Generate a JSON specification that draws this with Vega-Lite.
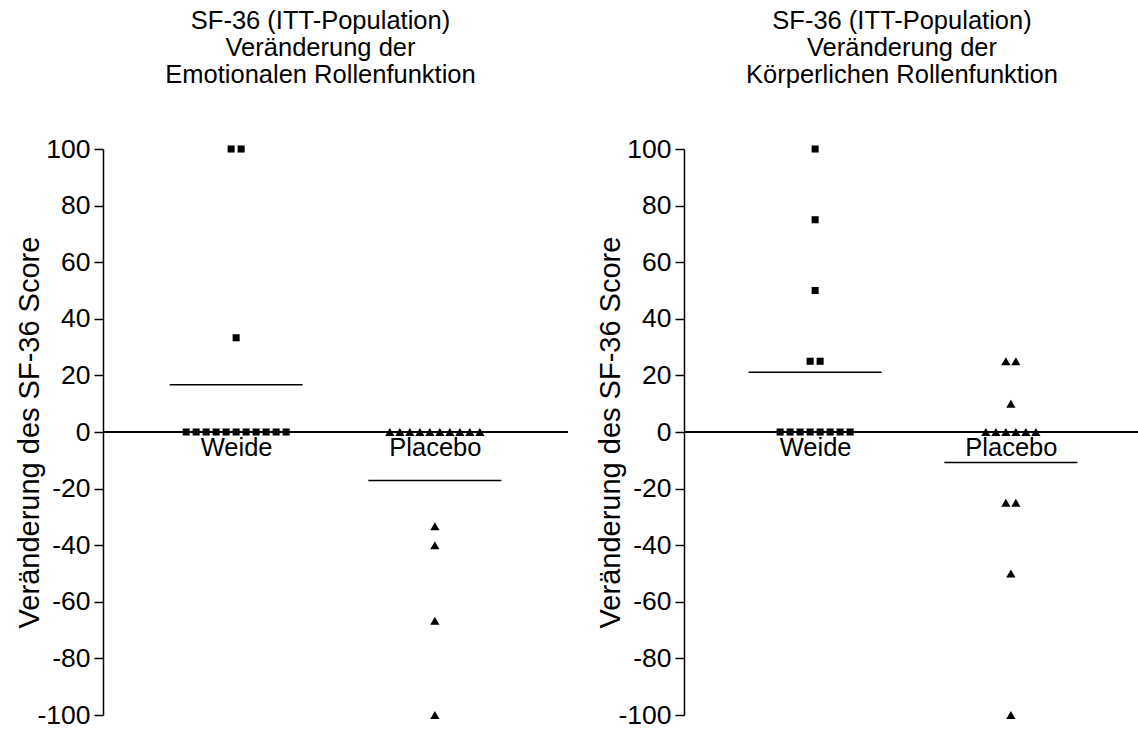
{
  "$schema": "https://vega.github.io/schema/vega-lite/v6.json",
  "background": "white",
  "padding": {"left": 15, "top": 8, "right": 0, "bottom": 0},
  "config": {
    "font": "Liberation Sans",
    "view": {"stroke": null},
    "axis": {"labelColor": "black", "titleColor": "black", "domainColor": "black", "tickColor": "black", "grid": false, "labelFont": "Liberation Sans", "titleFont": "Liberation Sans", "titleFontWeight": "normal"},
    "title": {"font": "Liberation Sans", "fontSize": 25.5, "fontWeight": "normal", "color": "black", "lineHeight": 27}
  },
  "datasets": {
    "sf36": [
      {"panel": "Emotional", "group": "Weide", "value": 100},
      {"panel": "Emotional", "group": "Weide", "value": 100},
      {"panel": "Emotional", "group": "Weide", "value": 33.3},
      {"panel": "Emotional", "group": "Weide", "value": 0},
      {"panel": "Emotional", "group": "Weide", "value": 0},
      {"panel": "Emotional", "group": "Weide", "value": 0},
      {"panel": "Emotional", "group": "Weide", "value": 0},
      {"panel": "Emotional", "group": "Weide", "value": 0},
      {"panel": "Emotional", "group": "Weide", "value": 0},
      {"panel": "Emotional", "group": "Weide", "value": 0},
      {"panel": "Emotional", "group": "Weide", "value": 0},
      {"panel": "Emotional", "group": "Weide", "value": 0},
      {"panel": "Emotional", "group": "Weide", "value": 0},
      {"panel": "Emotional", "group": "Weide", "value": 0},
      {"panel": "Emotional", "group": "Placebo", "value": 0},
      {"panel": "Emotional", "group": "Placebo", "value": 0},
      {"panel": "Emotional", "group": "Placebo", "value": 0},
      {"panel": "Emotional", "group": "Placebo", "value": 0},
      {"panel": "Emotional", "group": "Placebo", "value": 0},
      {"panel": "Emotional", "group": "Placebo", "value": 0},
      {"panel": "Emotional", "group": "Placebo", "value": 0},
      {"panel": "Emotional", "group": "Placebo", "value": 0},
      {"panel": "Emotional", "group": "Placebo", "value": 0},
      {"panel": "Emotional", "group": "Placebo", "value": 0},
      {"panel": "Emotional", "group": "Placebo", "value": -33.3},
      {"panel": "Emotional", "group": "Placebo", "value": -40},
      {"panel": "Emotional", "group": "Placebo", "value": -66.7},
      {"panel": "Emotional", "group": "Placebo", "value": -100},
      {"panel": "Koerperlich", "group": "Weide", "value": 100},
      {"panel": "Koerperlich", "group": "Weide", "value": 75},
      {"panel": "Koerperlich", "group": "Weide", "value": 50},
      {"panel": "Koerperlich", "group": "Weide", "value": 25},
      {"panel": "Koerperlich", "group": "Weide", "value": 25},
      {"panel": "Koerperlich", "group": "Weide", "value": 0},
      {"panel": "Koerperlich", "group": "Weide", "value": 0},
      {"panel": "Koerperlich", "group": "Weide", "value": 0},
      {"panel": "Koerperlich", "group": "Weide", "value": 0},
      {"panel": "Koerperlich", "group": "Weide", "value": 0},
      {"panel": "Koerperlich", "group": "Weide", "value": 0},
      {"panel": "Koerperlich", "group": "Weide", "value": 0},
      {"panel": "Koerperlich", "group": "Weide", "value": 0},
      {"panel": "Koerperlich", "group": "Placebo", "value": 25},
      {"panel": "Koerperlich", "group": "Placebo", "value": 25},
      {"panel": "Koerperlich", "group": "Placebo", "value": 10},
      {"panel": "Koerperlich", "group": "Placebo", "value": 0},
      {"panel": "Koerperlich", "group": "Placebo", "value": 0},
      {"panel": "Koerperlich", "group": "Placebo", "value": 0},
      {"panel": "Koerperlich", "group": "Placebo", "value": 0},
      {"panel": "Koerperlich", "group": "Placebo", "value": 0},
      {"panel": "Koerperlich", "group": "Placebo", "value": 0},
      {"panel": "Koerperlich", "group": "Placebo", "value": -25},
      {"panel": "Koerperlich", "group": "Placebo", "value": -25},
      {"panel": "Koerperlich", "group": "Placebo", "value": -50},
      {"panel": "Koerperlich", "group": "Placebo", "value": -100}
    ]
  },
  "spacing": 27,
  "hconcat": [
    {
      "width": 465,
      "height": 566,
      "title": {"text": ["SF-36 (ITT-Population)", "Veränderung der", "Emotionalen Rollenfunktion"], "offset": 48, "dx": -15, "frame": "group"},
      "data": {"name": "sf36"},
      "transform": [{"filter": "datum.panel === 'Emotional'"}],
      "layer": [
        {
          "mark": {"type": "rule", "color": "black", "strokeWidth": 1.5},
          "encoding": {"y": {"datum": 0, "type": "quantitative", "scale": {"domain": [-100, 100], "nice": false}}}
        },
        {
          "transform": [
            {"window": [{"op": "row_number", "as": "rk"}], "groupby": ["group", "value"]},
            {"joinaggregate": [{"op": "count", "as": "cnt"}], "groupby": ["group", "value"]},
            {"calculate": "datum.rk - (datum.cnt + 1) / 2", "as": "off"}
          ],
          "mark": {"type": "point", "filled": true, "opacity": 1, "color": "black"},
          "encoding": {
            "x": {"field": "group", "type": "nominal", "sort": ["Weide", "Placebo"], "scale": {"type": "point", "padding": 0.67}, "axis": {"title": null, "orient": "bottom", "offset": -283, "domain": false, "ticks": false, "labelFontSize": 25.5, "labelPadding": 3, "labelAngle": 0}},
            "xOffset": {"field": "off", "type": "quantitative", "scale": {"domain": [-6, 6], "range": [-60, 60]}},
            "y": {"field": "value", "type": "quantitative", "scale": {"domain": [-100, 100], "nice": false}, "axis": {"values": [-100, -80, -60, -40, -20, 0, 20, 40, 60, 80, 100], "labelExpr": "replace(datum.label, '−', '-')", "title": "Veränderung des SF-36 Score", "titleFontSize": 29, "labelFontSize": 26.5, "tickSize": 9, "labelPadding": 4, "domainWidth": 1.5, "tickWidth": 1.5, "titlePadding": -8}},
            "shape": {"field": "group", "type": "nominal", "scale": {"domain": ["Weide", "Placebo"], "range": ["square", "triangle-up"]}, "legend": null},
            "size": {"field": "group", "type": "nominal", "scale": {"domain": ["Weide", "Placebo"], "range": [50, 85]}, "legend": null}
          }
        },
        {
          "mark": {"type": "tick", "size": 133, "thickness": 1.5, "color": "black"},
          "encoding": {
            "x": {"field": "group", "type": "nominal", "sort": ["Weide", "Placebo"], "scale": {"type": "point", "padding": 0.67}},
            "y": {"aggregate": "mean", "field": "value", "type": "quantitative"}
          }
        }
      ]
    },
    {
      "width": 458,
      "height": 566,
      "title": {"text": ["SF-36 (ITT-Population)", "Veränderung der", "Körperlichen Rollenfunktion"], "offset": 48, "dx": -11, "frame": "group"},
      "data": {"name": "sf36"},
      "transform": [{"filter": "datum.panel === 'Koerperlich'"}],
      "layer": [
        {
          "mark": {"type": "rule", "color": "black", "strokeWidth": 1.5},
          "encoding": {"y": {"datum": 0, "type": "quantitative", "scale": {"domain": [-100, 100], "nice": false}}}
        },
        {
          "transform": [
            {"window": [{"op": "row_number", "as": "rk"}], "groupby": ["group", "value"]},
            {"joinaggregate": [{"op": "count", "as": "cnt"}], "groupby": ["group", "value"]},
            {"calculate": "datum.rk - (datum.cnt + 1) / 2", "as": "off"}
          ],
          "mark": {"type": "point", "filled": true, "opacity": 1, "color": "black"},
          "encoding": {
            "x": {"field": "group", "type": "nominal", "sort": ["Weide", "Placebo"], "scale": {"type": "point", "padding": 0.67}, "axis": {"title": null, "orient": "bottom", "offset": -283, "domain": false, "ticks": false, "labelFontSize": 25.5, "labelPadding": 3, "labelAngle": 0}},
            "xOffset": {"field": "off", "type": "quantitative", "scale": {"domain": [-6, 6], "range": [-60, 60]}},
            "y": {"field": "value", "type": "quantitative", "scale": {"domain": [-100, 100], "nice": false}, "axis": {"values": [-100, -80, -60, -40, -20, 0, 20, 40, 60, 80, 100], "labelExpr": "replace(datum.label, '−', '-')", "title": "Veränderung des SF-36 Score", "titleFontSize": 29, "labelFontSize": 26.5, "tickSize": 9, "labelPadding": 4, "domainWidth": 1.5, "tickWidth": 1.5, "titlePadding": -8}},
            "shape": {"field": "group", "type": "nominal", "scale": {"domain": ["Weide", "Placebo"], "range": ["square", "triangle-up"]}, "legend": null},
            "size": {"field": "group", "type": "nominal", "scale": {"domain": ["Weide", "Placebo"], "range": [50, 85]}, "legend": null}
          }
        },
        {
          "mark": {"type": "tick", "size": 133, "thickness": 1.5, "color": "black"},
          "encoding": {
            "x": {"field": "group", "type": "nominal", "sort": ["Weide", "Placebo"], "scale": {"type": "point", "padding": 0.67}},
            "y": {"aggregate": "mean", "field": "value", "type": "quantitative"}
          }
        }
      ]
    }
  ]
}
